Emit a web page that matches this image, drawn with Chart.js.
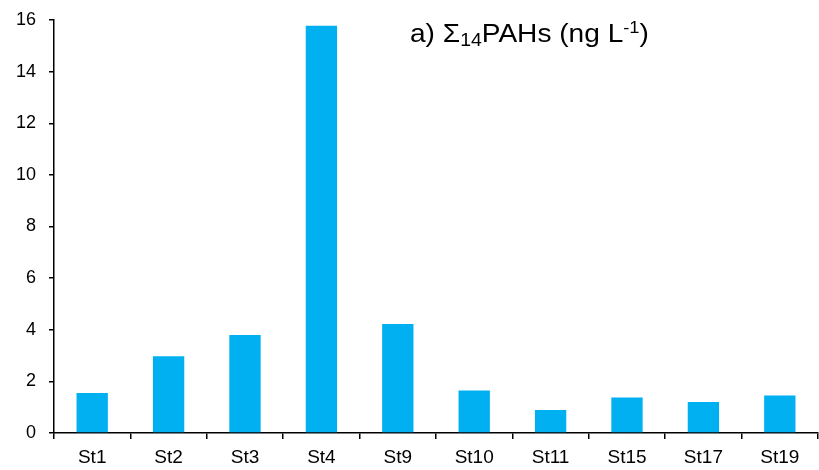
<!DOCTYPE html>
<html>
<head>
<meta charset="utf-8">
<script src="https://cdn.jsdelivr.net/npm/chart.js@4"></script>
<style>
  html, body { margin: 0; padding: 0; background: #fff; }
  #box { width: 819px; height: 470px; }
</style>
</head>
<body>
<div id="box"><canvas id="grafico"></canvas></div>
<script>
// estações e concentrações (ng/L)
const estacoes = ['St1', 'St2', 'St3', 'St4', 'St9', 'St10', 'St11', 'St15', 'St17', 'St19'];
const valores = [1.55, 2.97, 3.80, 15.78, 4.22, 1.65, 0.89, 1.38, 1.20, 1.45];
const ticksY = [0, 2, 4, 6, 8, 10, 12, 14, 16];

const fonte = '"Liberation Sans", Arial, sans-serif';

// titulo com subscrito e sobrescrito
const tituloPlugin = {
    id: 'titulo',
    afterDraw(chart) {
        const c = chart.ctx;
        c.save();
        c.fillStyle = '#000';
        c.textBaseline = 'alphabetic';
        c.translate(410, 41.5);
        c.scale(1.08, 1);
        let x = 0;
        const partes = [
            { t: 'a) Σ', size: 26, dy: 0 },
            { t: '14', size: 18, dy: 4 },
            { t: 'PAHs (ng L', size: 26, dy: 0 },
            { t: '-1', size: 17, dy: -9 },
            { t: ')', size: 26, dy: 0 }
        ];
        partes.forEach(p => {
            c.font = p.size + 'px ' + fonte;
            c.fillText(p.t, x, p.dy);
            x += c.measureText(p.t).width;
        });
        c.restore();
    }
};

const ctx = document.getElementById('grafico').getContext('2d');
const grafico = new Chart(ctx, {
    type: 'bar',
    data: {
        labels: estacoes,
        datasets: [{
            data: valores,
            backgroundColor: '#00B0F0',
            barPercentage: 0.82,
            categoryPercentage: 0.5
        }]
    },
    options: {
        responsive: true,
        maintainAspectRatio: false,
        animation: false,
        layout: { padding: { top: 20, right: 1, left: 0, bottom: 0 } },
        plugins: {
            legend: { display: false },
            tooltip: { enabled: false }
        },
        scales: {
            x: {
                offset: true,
                grid: {
                    offset: true,
                    drawOnChartArea: false,
                    drawTicks: true,
                    tickLength: 6,
                    color: '#000',
                    lineWidth: 1.5
                },
                border: { color: '#000', width: 1.5 },
                ticks: {
                    color: '#000',
                    font: { family: fonte, size: 19 },
                    padding: 7,
                    maxRotation: 0
                },
                afterFit(scale) { scale.height = 37; }
            },
            y: {
                min: 0,
                max: 16,
                afterBuildTicks(scale) {
                    scale.ticks = ticksY.map(v => ({ value: v }));
                },
                grid: {
                    drawOnChartArea: false,
                    drawTicks: true,
                    tickLength: 5,
                    color: '#000',
                    lineWidth: 1.5
                },
                border: { color: '#000', width: 1.5 },
                ticks: {
                    color: '#000',
                    font: { family: fonte, size: 18 },
                    padding: 13
                },
                afterFit(scale) {
                    scale.width = 54;
                    scale.paddingTop = 0;
                    scale.paddingBottom = 0;
                }
            }
        }
    },
    plugins: [tituloPlugin]
});
</script>
</body>
</html>
